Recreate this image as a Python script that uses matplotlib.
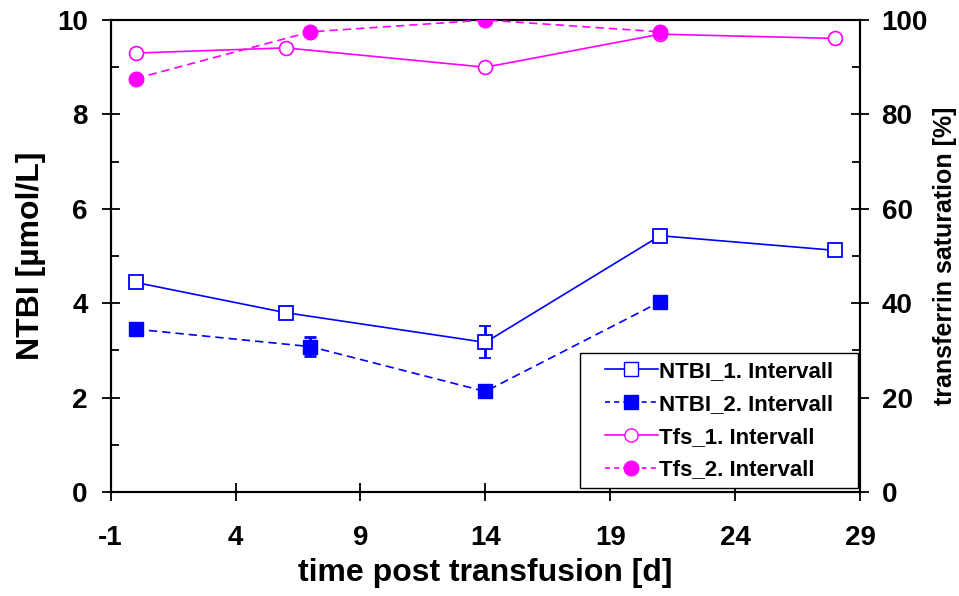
import matplotlib
matplotlib.use("Agg")
import matplotlib.pyplot as plt
from matplotlib.ticker import MultipleLocator
from matplotlib.lines import Line2D
from matplotlib.patches import Rectangle

plt.rcParams['font.family'] = ['Liberation Sans', 'DejaVu Sans']
plt.rcParams['font.weight'] = 'bold'
plt.rcParams['axes.unicode_minus'] = False

days1 = [0, 6, 14, 21, 28]
ntbi1 = [4.44, 3.80, 3.17, 5.43, 5.12]
ntbi1_err = [0.09, 0.09, 0.34, 0.10, 0.07]
days2 = [0, 7, 14, 21]
ntbi2 = [3.45, 3.08, 2.13, 4.03]
ntbi2_err = [0.0, 0.20, 0.0, 0.0]
tfs1 = [93.0, 94.1, 90.0, 97.0, 96.1]
tfs2 = [87.6, 97.5, 100.0, 97.5]
xticks = [-1, 4, 9, 14, 19, 24, 29]

blue = '#0000ff'
mag = '#ff00ff'
dash = (0, (5, 3))

fig = plt.figure(figsize=(9.59, 5.96), dpi=100)
ax = fig.add_axes([0.1154, 0.1745, 0.8968 - 0.1154, 0.9664 - 0.1745])
ax2 = ax.twinx()

ax.errorbar(days1, ntbi1, yerr=ntbi1_err, color=blue, lw=1.2, marker='s', ms=9.5,
            mfc='white', mec=blue, mew=1.3, capsize=4, elinewidth=2, capthick=2, zorder=3)
ax.errorbar(days2, ntbi2, yerr=ntbi2_err, color=blue, lw=1.2, ls=dash, marker='s', ms=10,
            mfc=blue, mec=blue, capsize=4, elinewidth=2, capthick=2, zorder=3)
ax2.plot(days1, tfs1, color=mag, lw=1.2, marker='o', ms=10, mfc='white', mec=mag, mew=1.2, zorder=3)
ax2.plot(days2, tfs2, color=mag, lw=1.2, ls=dash, marker='o', ms=10.5, mfc=mag, mec=mag, zorder=3)

ax.set_xlim(-1, 29)
ax.set_ylim(0, 10)
ax2.set_ylim(0, 100)
ax.set_xticks(xticks)
ax.yaxis.set_major_locator(MultipleLocator(2))
ax.yaxis.set_minor_locator(MultipleLocator(1))
ax2.yaxis.set_major_locator(MultipleLocator(20))
ax2.yaxis.set_minor_locator(MultipleLocator(10))

for a in (ax, ax2):
    for s in a.spines.values():
        s.set_linewidth(1.5)
ax.tick_params(axis='both', which='major', direction='inout', length=13, width=1.3, labelsize=20)
ax.tick_params(axis='y', which='major', pad=10)
ax.tick_params(axis='y', which='minor', direction='in', length=6, width=1.3)
ax.tick_params(axis='x', pad=17)
ax2.tick_params(axis='y', which='major', direction='inout', length=13, width=1.3, labelsize=20, pad=9)
ax2.tick_params(axis='y', which='minor', direction='in', length=6, width=1.3)
for lab in ax.get_xticklabels() + ax.get_yticklabels() + ax2.get_yticklabels():
    lab.set_fontweight('bold')

ax.set_xlabel('time post transfusion [d]', fontsize=23, fontweight='bold', labelpad=5)
ax.set_ylabel('NTBI [µmol/L]', fontsize=23, fontweight='bold', labelpad=8)
ax2.set_ylabel('transferrin saturation [%]', fontsize=18, fontweight='bold', labelpad=4)

ldash = (0, (3, 2.5))
handles = [
    Line2D([], [], color=blue, lw=1.2, marker='s', ms=9.5, mfc='white', mec=blue),
    Line2D([], [], color=blue, lw=1.2, ls=ldash, marker='s', ms=10, mfc=blue, mec=blue),
    Line2D([], [], color=mag, lw=1.2, marker='o', ms=9.5, mfc='white', mec=mag),
    Line2D([], [], color=mag, lw=1.2, ls=ldash, marker='o', ms=10.5, mfc=mag, mec=mag),
]
labels = ['NTBI_1. Intervall', 'NTBI_2. Intervall', 'Tfs_1. Intervall', 'Tfs_2. Intervall']
leg = ax2.legend(handles, labels, loc='lower right', bbox_to_anchor=(0.9745, 0.008),
                 frameon=False, handlelength=2.4, borderpad=0.35, labelspacing=0.53,
                 handletextpad=0.05, borderaxespad=0, prop={'weight': 'bold', 'size': 16})
leg.set_zorder(6)

fig.canvas.draw()
bb = leg.get_window_extent()
padx = 17
inv = fig.transFigure.inverted()
(x0, y0) = inv.transform((bb.x0 - padx, bb.y0))
(x1, y1) = inv.transform((bb.x1 + padx, bb.y1))
rect = Rectangle((x0, y0), x1 - x0, y1 - y0, transform=fig.transFigure, fill=True,
                 facecolor='white', edgecolor='black', lw=1.0, zorder=5)
ax2.add_artist(rect)

fig.savefig('out.png', dpi=100)
